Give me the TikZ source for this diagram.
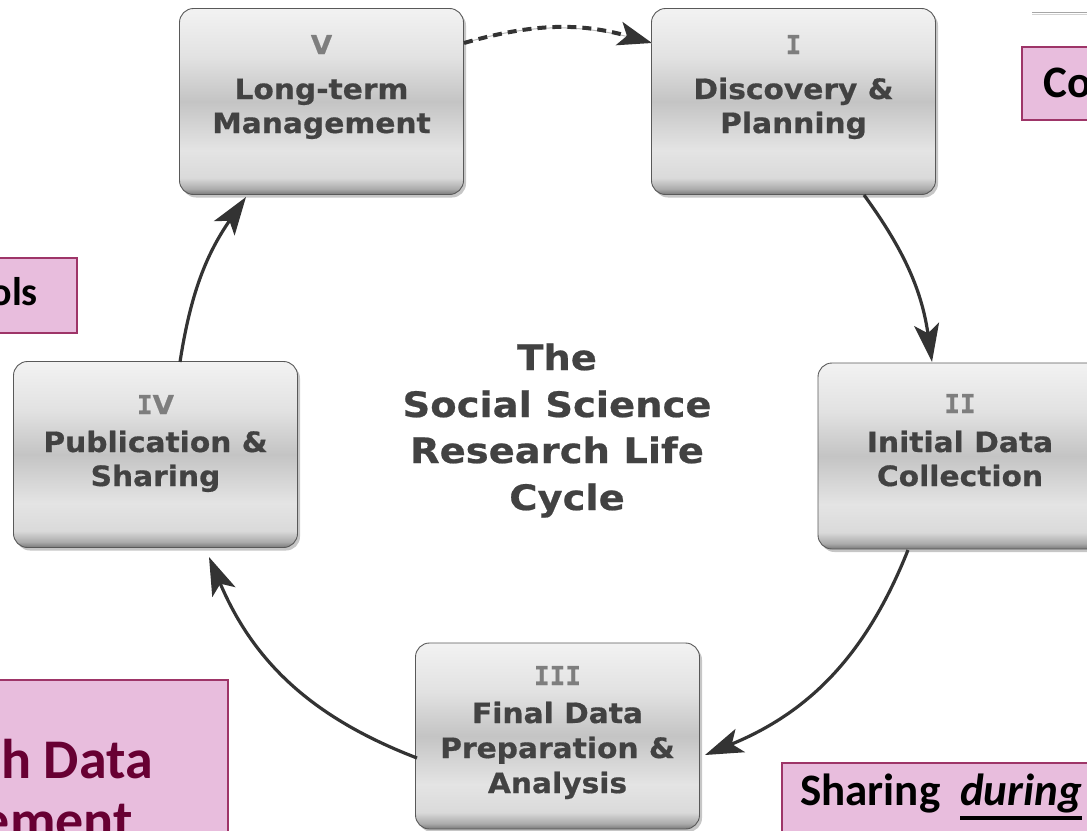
\documentclass[tikz,border=0pt]{standalone}
\usepackage{fontspec}
\usetikzlibrary{arrows.meta,shadows,calc}
\newfontfamily\boxfont[FakeStretch=1.06, BoldFeatures={FakeBold=0.6}]{DejaVu Sans}
\newfontfamily\titlefont[FakeStretch=1.1, BoldFeatures={FakeBold=0.6}]{DejaVu Sans}
\newfontfamily\numfont[BoldFeatures={FakeBold=0.5}]{DejaVu Sans Mono}
\newfontfamily\calib{Carlito}
\definecolor{pinkfill}{HTML}{E8BDDD}
\definecolor{pinkline}{HTML}{9E3568}
\definecolor{maroontext}{HTML}{680033}
\definecolor{boxtext}{HTML}{424242}
\definecolor{numtext}{HTML}{7E7E7E}
\definecolor{arrowc}{HTML}{333333}
\definecolor{sA}{HTML}{787878}
\definecolor{sB}{HTML}{ABABAB}
\definecolor{sC}{HTML}{DADADA}
\definecolor{sD}{HTML}{E4E4E4}
\definecolor{sE}{HTML}{C4C4C4}
\definecolor{sF}{HTML}{E2E2E2}
\definecolor{sG}{HTML}{F2F2F2}
\pgfdeclareverticalshading{boxshade}{100bp}{color(0bp)=(sA); color(25bp)=(sA); color(26.5bp)=(sB); color(29.5bp)=(sC); color(37bp)=(sD); color(50bp)=(sE); color(62bp)=(sF); color(75bp)=(sG); color(100bp)=(sG)}
\tikzset{
  stage/.style={rounded corners=14pt, draw=black!65, line width=0.9pt, shading=boxshade,
    minimum width=284pt, minimum height=186pt, inner sep=0pt,
    drop shadow={shadow xshift=2.5pt, shadow yshift=-3pt, opacity=0.45}},
  numlbl/.style={anchor=base, inner sep=0pt, text=numtext, font=\fontsize{26}{30}\selectfont\bfseries},
  ttl/.style={anchor=base, inner sep=0pt, text=boxtext, font=\boxfont\fontsize{28}{34}\selectfont\bfseries},
  centre/.style={anchor=base, inner sep=0pt, text=boxtext, font=\titlefont\fontsize{35}{42}\selectfont\bfseries},
  flow/.style={draw=arrowc, line width=3.2pt, -{Stealth[length=38pt,width=25pt,inset=9pt]}},
  dashflow/.style={draw=arrowc, line width=4pt, dash pattern=on 9pt off 6pt, -{Stealth[length=34pt,width=24pt,inset=8pt]}},
  pinkbox/.style={draw=pinkline, fill=pinkfill, line width=1.8pt, inner sep=0pt},
  pinktxt/.style={inner sep=0pt, text=black, font=\calib\bfseries\fontsize{45}{54}\selectfont},
  maroontxt/.style={inner sep=0pt, text=maroontext, font=\calib\bfseries\fontsize{56}{66}\selectfont}
}
\newcommand\RomI{{\numfont I}}
\newcommand\RomV{{\boxfont V}}
\begin{document}
\begin{tikzpicture}[x=1pt,y=-1pt]
\useasboundingbox (0,0) rectangle (1087,830);
\clip (0,0) rectangle (1087,830);

% pink boxes
\node[pinkbox, minimum width=78pt, minimum height=73pt] (cobox) at (1061,83.5) {};
\node[pinkbox, minimum width=97pt, minimum height=75pt] (olsbox) at (28.5,295.5) {};
\node[pinkbox, minimum width=248pt, minimum height=170pt] (rdmbox) at (104,765) {};
\node[pinkbox, minimum width=330pt, minimum height=90pt] (shbox) at (947,808) {};
\node[pinktxt, anchor=base west] (cotxt) at (1043,97) {Co};
\node[pinktxt, anchor=base east, font=\calib\bfseries\fontsize{40}{48}\selectfont] (olstxt) at (38,305) {ols};
\node[maroontxt, anchor=base east] (rdm1) at (153,778) {h Data};
\node[maroontxt, anchor=base east] (rdm2) at (133,839) {ement};
\node[pinktxt, anchor=base west] (sh1) at (800,805) {Sharing};
\node[pinktxt, anchor=base west] (sh2) at (960,805) {\itshape during};
\draw[black, line width=3.5pt] ($(sh2.base west)+(0,13)$) -- ($(sh2.base east)+(0,13)$);

% faint line top right
\coordinate (tl1) at (1032,12);
\coordinate (tl2) at (1087,12);
\draw[gray!70, line width=0.8pt] (tl1) -- (tl2);
\draw[gray!35, line width=0.8pt] ($(tl1)+(0,2.5)$) -- ($(tl2)+(0,2.5)$);

% stage boxes
\node[stage] (V) at (321.5,101.5) {};
\node[stage] (I) at (793.5,101.5) {};
\node[stage] (II) at (960,456) {};
\node[stage] (IV) at (155.5,454.5) {};
\node[stage] (III) at (557.5,736) {};

% stage texts
\node[numlbl] (Vn) at (321.5,54) {\RomV};
\node[ttl] (Vt1) at (321.5,99) {Long-term};
\node[ttl] (Vt2) at (321.5,133) {Management};

\node[numlbl] (In) at (793.5,54) {\RomI};
\node[ttl] (It1) at (793.5,99) {Discovery \&};
\node[ttl] (It2) at (793.5,133) {Planning};

\node[numlbl] (IIn) at (960,413) {\RomI\RomI};
\node[ttl] (IIt1) at (960,452) {Initial Data};
\node[ttl] (IIt2) at (960,486) {Collection};

\node[numlbl] (IVn) at (155.5,414) {\RomI\RomV};
\node[ttl] (IVt1) at (155.5,452) {Publication \&};
\node[ttl] (IVt2) at (155.5,486) {Sharing};

\node[numlbl] (IIIn) at (557.5,685) {\RomI\RomI\RomI};
\node[ttl] (IIIt1) at (557.5,723) {Final Data};
\node[ttl] (IIIt2) at (557.5,758) {Preparation \&};
\node[ttl] (IIIt3) at (557.5,793) {Analysis};

% centre title
\node[centre] (c1) at (557,370) {The};
\node[centre] (c2) at (557,417) {Social Science};
\node[centre] (c3) at (557,463) {Research Life};
\node[centre] (c4) at (567,510) {Cycle};

% connectors
\coordinate (VIs) at (464,43);
\coordinate (VIe) at (652,43);
\coordinate (IIIs) at (864,195);
\coordinate (IIIe) at (932,362);
\coordinate (IIIIs) at (908,550);
\coordinate (IIIIe) at (705,755);
\coordinate (IIIIVs) at (417,758);
\coordinate (IIIIVe) at (209,557);
\coordinate (IVVs) at (180,362);
\coordinate (IVVe) at (246,197);

\draw[gray!55, line width=1pt] (VIs) to[bend left=16] (VIe);
\draw[dashflow] (VIs) to[bend left=16] (VIe);
\draw[flow] (IIIs) to[bend left=14] (IIIe);
\draw[flow] (IIIIs) to[bend left=23] (IIIIe);
\draw[flow] (IIIIVs) to[bend left=23] (IIIIVe);
\draw[flow] (IVVs) to[bend left=13] (IVVe);
\end{tikzpicture}
\end{document}
